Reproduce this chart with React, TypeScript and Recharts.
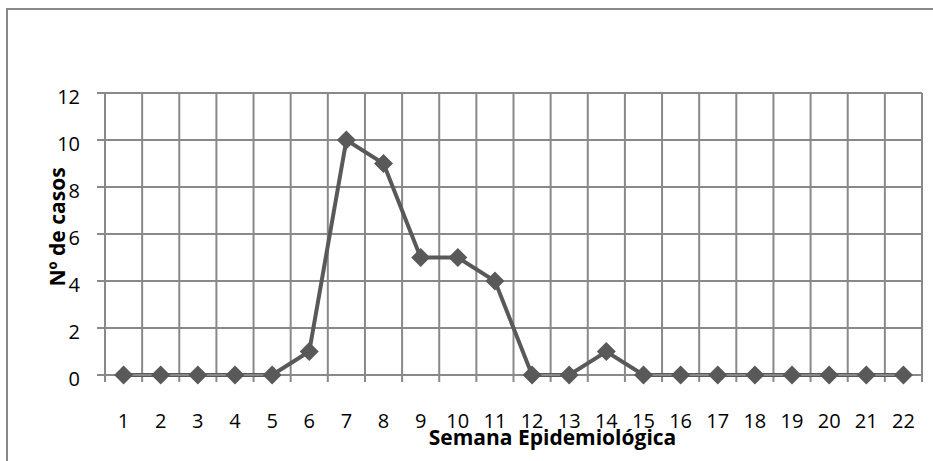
import React from 'react';
import { LineChart, Line, XAxis, YAxis, CartesianGrid, ReferenceLine } from 'recharts';

// Semanas epidemiológicas y número de casos notificados
const semanas = [1, 2, 3, 4, 5, 6, 7, 8, 9, 10, 11, 12, 13, 14, 15, 16, 17, 18, 19, 20, 21, 22];
const casos = [0, 0, 0, 0, 0, 1, 10, 9, 5, 5, 4, 0, 0, 1, 0, 0, 0, 0, 0, 0, 0, 0];
const yTicks = [0, 2, 4, 6, 8, 10, 12];
// Límites entre semanas, donde van las líneas verticales de la cuadrícula
const limites = [0.5, ...semanas.map((s) => s + 0.5)];

const data = semanas.map((semana, i) => ({ semana, casos: casos[i] }));

const GRID = '#898989';
const SERIE = '#595959';
const FONT = '"Open Sans", sans-serif';

const renderDiamante = (props: any) => {
  const { cx, cy, index } = props;
  if (cx == null || cy == null) return <g key={index} />;
  const r = 9.5;
  return (
    <polygon
      key={index}
      points={`${cx},${cy - r} ${cx + r},${cy} ${cx},${cy + r} ${cx - r},${cy}`}
      fill={SERIE}
    />
  );
};

const renderTickX = (props: any) => {
  const { x, y, payload, index } = props;
  return (
    <text
      key={index}
      x={x}
      y={y + 53}
      textAnchor="middle"
      fontFamily={FONT}
      fontSize={20}
      fill="#000"
    >
      {payload.value}
    </text>
  );
};

const renderTickY = (props: any) => {
  const { x, y, payload, index } = props;
  return (
    <text
      key={index}
      x={x}
      y={y + 10.5}
      textAnchor="end"
      fontFamily={FONT}
      fontSize={20}
      fill="#000"
    >
      {payload.value}
    </text>
  );
};

const TituloX = (props: any) => {
  const vb = props.viewBox;
  return (
    <text
      x={vb.x + vb.width / 2 + 39}
      y={vb.y + 70}
      textAnchor="middle"
      fontFamily={FONT}
      fontWeight="bold"
      fontSize={21}
      fill="#000"
    >
      Semana Epidemiológica
    </text>
  );
};

const TituloY = (props: any) => {
  const vb = props.viewBox;
  const x = vb.x + 20;
  const y = vb.y + vb.height / 2 - 7;
  return (
    <text
      x={x}
      y={y}
      transform={`rotate(-90, ${x}, ${y})`}
      textAnchor="middle"
      fontFamily={FONT}
      fontWeight="bold"
      fontSize={21}
      fill="#000"
    >
      Nº de casos
    </text>
  );
};

export default function App() {
  return (
    <div
      style={{
        position: 'absolute',
        left: 0,
        top: 0,
        width: 933,
        height: 461,
        overflow: 'hidden',
        background: '#fff',
      }}
    >
      <div
        style={{
          position: 'absolute',
          left: 6,
          top: 8,
          width: 1000,
          height: 1000,
          borderLeft: `2px solid ${GRID}`,
          borderTop: `2px solid ${GRID}`,
        }}
      />
      <div style={{ position: 'absolute', left: 0, top: 0 }}>
        <LineChart
          width={933}
          height={461}
          data={data}
          margin={{ top: 93, right: 11, left: 45, bottom: 46 }}
        >
          <CartesianGrid vertical={false} stroke={GRID} strokeWidth={2} />
          {limites.map((b) => (
            <ReferenceLine
              key={b}
              segment={[
                { x: b, y: 12 },
                { x: b, y: -0.3 },
              ]}
              stroke={GRID}
              strokeWidth={2}
              ifOverflow="visible"
            />
          ))}
          <XAxis
            dataKey="semana"
            type="number"
            domain={[0.5, 22.5]}
            ticks={semanas}
            interval={0}
            height={40}
            tickSize={0}
            tickMargin={0}
            tickLine={false}
            axisLine={{ stroke: GRID, strokeWidth: 2 }}
            tick={renderTickX}
            label={<TituloX />}
          />
          <YAxis
            domain={[0, 12]}
            ticks={yTicks}
            interval={0}
            width={60}
            tickSize={8}
            tickMargin={17}
            tickLine={{ stroke: GRID, strokeWidth: 2 }}
            axisLine={{ stroke: GRID, strokeWidth: 2 }}
            tick={renderTickY}
            label={<TituloY />}
          />
          <Line
            type="linear"
            dataKey="casos"
            stroke={SERIE}
            strokeWidth={4}
            dot={renderDiamante}
            activeDot={false}
            isAnimationActive={false}
          />
        </LineChart>
      </div>
    </div>
  );
}
